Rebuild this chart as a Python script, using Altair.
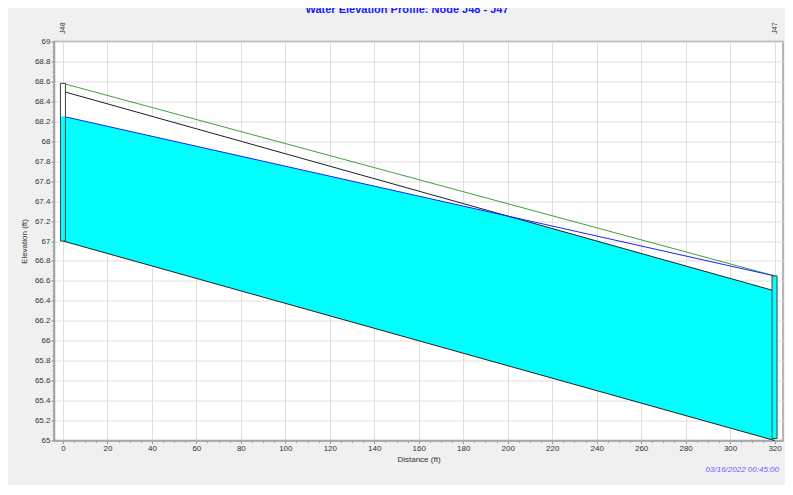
import altair as alt
import pandas as pd

# ---- data ----
node_names = ["J48", "J47"]
node_station = [0, 320]
node_invert = [67.0, 65.02]
node_ground = [68.58, 66.65]
node_head = [68.25, 66.65]

link_station = [0, 320]
link_invert = [67.0, 65.0]
link_crown = [68.5, 66.5]
link_hgl = [68.25, 66.65]
link_ground = [68.58, 66.65]

# part of the pipe above the water surface (water below crown)
gap_station = [0, 200]
gap_hgl = [68.25, 67.25]
gap_crown = [68.5, 67.25]

x_ticks = [0, 20, 40, 60, 80, 100, 120, 140, 160, 180, 200, 220, 240, 260, 280, 300, 320]
y_ticks = [65, 65.2, 65.4, 65.6, 65.8, 66, 66.2, 66.4, 66.6, 66.8, 67,
           67.2, 67.4, 67.6, 67.8, 68, 68.2, 68.4, 68.6, 68.8, 69]
x_minor = list(range(0, 321, 5))
y_minor = [round(65 + 0.05 * i, 2) for i in range(81)]

title_text = "Water Elevation Profile: Node J48 - J47"
date_text = "03/16/2022 00:45:00"

nodes = pd.DataFrame({"name": node_names, "x": node_station, "inv": node_invert,
                      "gnd": node_ground, "head": node_head})
link = pd.DataFrame({"x": link_station, "inv": link_invert, "crown": link_crown,
                     "hgl": link_hgl, "gnd": link_ground})
gap = pd.DataFrame({"x": gap_station, "hgl": gap_hgl, "crown": gap_crown})

FONT = "Liberation Sans"
W, H = 729, 399
xs = alt.Scale(domain=[-1.774, 321.55], nice=False, zero=False)
ys = alt.Scale(domain=[65, 69], nice=False, zero=False)

x_axis = alt.Axis(values=x_ticks, grid=True, gridColor="#dedede", gridWidth=1,
                  domainColor="#a0a0a0", domainWidth=1.5, tickColor="#909090", tickSize=3,
                  labelFont=FONT, labelFontSize=8, labelColor="#333333", labelPadding=1,
                  title="Distance (ft)", titleFont=FONT, titleFontSize=8,
                  titleFontWeight="normal", titleColor="#333333", titlePadding=3,
                  format="d", orient="bottom")
y_axis = alt.Axis(values=y_ticks, grid=True, gridColor="#dedede", gridWidth=1,
                  domainColor="#a0a0a0", domainWidth=1.5, tickColor="#909090", tickSize=3,
                  labelFont=FONT, labelFontSize=8, labelColor="#333333", labelPadding=1,
                  title="Elevation (ft)", titleFont=FONT, titleFontSize=8,
                  titleFontWeight="normal", titleColor="#333333", titlePadding=6,
                  format="~f", orient="left")

base = alt.Chart(link)

pipe = base.mark_area(color="#00ffff", opacity=1).encode(
    x=alt.X("x:Q", scale=xs, axis=x_axis),
    y=alt.Y("inv:Q", scale=ys, axis=y_axis),
    y2="crown:Q",
)

minor = alt.Chart(link).mark_point(opacity=0).encode(
    x=alt.X("x:Q", scale=xs, axis=alt.Axis(values=x_minor, labels=False, grid=False,
                                           domain=False, tickSize=2, tickColor="#a0a0a0",
                                           title=None, orient="bottom", offset=0)),
    y=alt.Y("inv:Q", scale=ys, axis=alt.Axis(values=y_minor, labels=False, grid=False,
                                             domain=False, tickSize=2, tickColor="#a0a0a0",
                                             title=None, orient="left", offset=0)),
)

air = alt.Chart(gap).mark_area(color="white", opacity=1).encode(
    x=alt.X("x:Q", scale=xs, axis=None),
    y=alt.Y("hgl:Q", scale=ys, axis=None),
    y2="crown:Q",
)


def line(field, color, width=1):
    return base.mark_line(color=color, strokeWidth=width).encode(
        x=alt.X("x:Q", scale=xs, axis=None),
        y=alt.Y(f"{field}:Q", scale=ys, axis=None),
    )


ground_line = line("gnd", "#3f9f3f")
crown_line = line("crown", "#202020")
invert_line = line("inv", "#202020")
hgl_line = line("hgl", "#1f1fff")

nb = alt.Chart(nodes)
node_white = nb.mark_bar(size=5, color="white").encode(
    x=alt.X("x:Q", scale=xs, axis=None),
    y=alt.Y("inv:Q", scale=ys, axis=None), y2="gnd:Q")
node_water = nb.mark_bar(size=5, color="#00ffff").encode(
    x=alt.X("x:Q", scale=xs, axis=None),
    y=alt.Y("inv:Q", scale=ys, axis=None), y2="head:Q")
node_outline = nb.mark_bar(size=5, fill=None, fillOpacity=0, stroke="#404040",
                           strokeWidth=1).encode(
    x=alt.X("x:Q", scale=xs, axis=None),
    y=alt.Y("inv:Q", scale=ys, axis=None), y2="gnd:Q")
node_labels = nb.mark_text(angle=270, font=FONT, fontSize=7, color="#333333",
                           align="center", baseline="middle").encode(
    x=alt.X("x:Q", scale=xs, axis=None),
    y=alt.value(-13.5),
    text="name:N")

title = alt.Chart(pd.DataFrame({"t": [title_text]})).mark_text(
    font=FONT, fontSize=11, fontWeight="bold", color="#1a1aff",
    align="center", baseline="alphabetic").encode(
    x=alt.value(353), y=alt.value(-28.5), text="t:N")

date = alt.Chart(pd.DataFrame({"t": [date_text]})).mark_text(
    font=FONT, fontSize=8, fontStyle="italic", color="#6a5cff",
    align="right", baseline="middle").encode(
    x=alt.value(725), y=alt.value(428.5), text="t:N")

chart = alt.layer(
    pipe, minor, air, ground_line, crown_line, invert_line, hgl_line,
    node_white, node_water, node_outline, node_labels, title, date,
).resolve_axis(x="independent", y="independent").properties(
    width=W, height=H,
    padding={"left": 46, "top": 33.5, "right": 2, "bottom": 44.5},
    autosize=alt.AutoSizeParams(type="none"),
    background="#f0f0f0",
).configure_view(
    fill="white", stroke="#a0a0a0", strokeWidth=1.5,
)

chart.save("out.html", embed_options={"renderer": "svg", "actions": False})
